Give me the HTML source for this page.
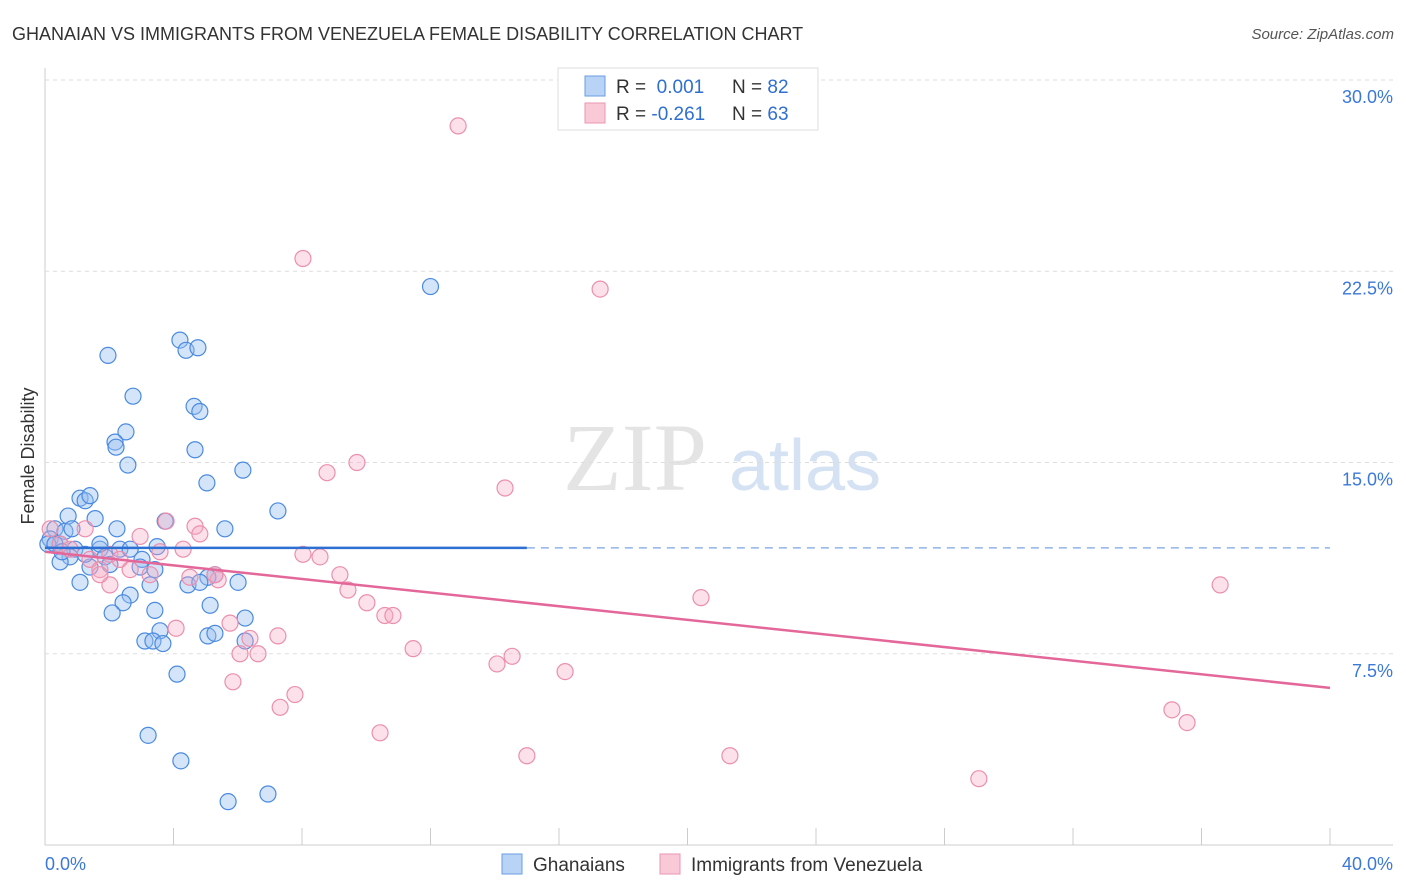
<!DOCTYPE html>
<html><head><meta charset="utf-8"><style>
body{margin:0;background:#fff;font-family:"Liberation Sans",sans-serif;}
svg{display:block}
</style></head><body>
<svg id="c" width="1406" height="892">
<text x="12" y="40" font-size="18" fill="#333">GHANAIAN VS IMMIGRANTS FROM VENEZUELA FEMALE DISABILITY CORRELATION CHART</text>
<text x="1394" y="39" font-size="15" fill="#555" text-anchor="end" font-style="italic">Source: ZipAtlas.com</text>
<text x="635" y="490" font-size="96" fill="#e4e4e4" font-family="Liberation Serif" text-anchor="middle">ZIP</text>
<text x="805" y="490" font-size="72" fill="#d4e2f4" text-anchor="middle">atlas</text>
<text transform="translate(34,456) rotate(-90)" font-size="18" fill="#333" text-anchor="middle">Female Disability</text>
<g id="grid"></g><g id="pts"></g><g id="lines"></g>
<g>
<rect x="558" y="68" width="260" height="62" fill="#fff" stroke="#ddd"/>
<rect x="585" y="76" width="20" height="20" fill="#b8d3f5" stroke="#6a9ee0"/>
<rect x="585" y="103" width="20" height="20" fill="#f9c9d7" stroke="#e996b0"/>
<text x="616" y="93" font-size="19" fill="#333">R = <tspan fill="#2f6fd0">&#160;0.001</tspan><tspan x="732">N = </tspan><tspan fill="#2f6fd0">82</tspan></text>
<text x="616" y="120" font-size="19" fill="#333">R = <tspan fill="#2f6fd0">-0.261</tspan><tspan x="732">N = </tspan><tspan fill="#2f6fd0">63</tspan></text>
</g>
<g>
<rect x="502" y="854" width="20" height="20" fill="#b8d3f5" stroke="#6a9ee0"/>
<text x="533" y="871" font-size="19" fill="#333">Ghanaians</text>
<rect x="660" y="854" width="20" height="20" fill="#f9c9d7" stroke="#e996b0"/>
<text x="691" y="871" font-size="19" fill="#333">Immigrants from Venezuela</text>
</g>
</svg>
<script>
const blueX=[12.0,4.2,4.39,4.76,1.96,2.74,4.64,4.82,2.52,2.18,2.21,4.67,2.58,6.16,5.04,1.09,1.25,1.40,7.25,1.56,0.72,3.74,5.6,2.24,0.31,0.62,0.16,0.47,0.93,1.71,2.33,2.65,3.02,3.49,0.78,1.87,2.02,1.40,0.47,2.96,3.42,5.29,5.07,1.09,3.27,4.45,4.82,6.01,2.65,2.43,3.42,5.14,2.09,6.23,3.58,3.11,3.36,3.67,5.07,5.29,6.23,4.11,3.21,4.23,5.70,6.94,1.71,1.25,0.84,0.09,0.31,0.53];
const blueY=[21.9,19.8,19.4,19.5,19.2,17.6,17.2,17.0,16.2,15.8,15.6,15.5,14.9,14.7,14.2,13.6,13.5,13.7,13.1,12.8,12.9,12.7,12.4,12.4,12.4,12.3,12.0,11.8,11.6,11.6,11.6,11.6,11.2,11.7,11.3,11.3,11.0,10.9,11.1,10.9,10.8,10.6,10.5,10.3,10.2,10.2,10.3,10.3,9.8,9.5,9.2,9.4,9.1,8.9,8.4,8.0,8.0,7.9,8.2,8.3,8.0,6.7,4.3,3.3,1.7,2.0,11.8,11.4,12.4,11.8,11.8,11.5];
const pinkX=[12.86,8.03,17.28,8.78,9.71,14.32,4.67,4.82,3.77,4.30,2.96,8.03,8.56,3.58,2.02,1.25,0.47,0.16,1.40,2.33,2.65,3.27,1.71,2.02,4.51,5.39,5.29,9.18,9.43,10.02,10.58,10.83,4.08,5.76,6.38,7.25,6.07,6.63,5.85,7.78,7.32,11.46,14.07,14.54,16.19,20.42,36.58,35.08,35.55,10.43,15.0,21.32,29.07,1.71,0.78];
const pinkY=[28.2,23.0,21.8,14.6,15.0,14.0,12.5,12.2,12.7,11.6,12.1,11.4,11.3,11.5,11.4,12.4,11.8,12.4,11.2,11.2,10.8,10.6,10.8,10.2,10.5,10.4,10.6,10.6,10.0,9.5,9.0,9.0,8.5,8.7,8.1,8.2,7.5,7.5,6.4,5.9,5.4,7.7,7.1,7.4,6.8,9.7,10.2,5.3,4.8,4.4,3.5,3.5,2.6,10.6,11.6];
const yTicks=[7.5,15.0,22.5,30.0];
const xTickVals=[0,4,8,12,16,20,24,28,32,36,40];
const blueFit=[11.65,11.65];
const pinkFit=[11.5,6.16];
const NS="http://www.w3.org/2000/svg";
const sx=v=>45+v*32.125, sy=v=>845-v*25.5;
function mk(t,a,p){const e=document.createElementNS(NS,t);for(const k in a)e.setAttribute(k,a[k]);p.appendChild(e);return e;}
const grid=document.getElementById('grid');
const ax=mk('line',{x1:45,y1:68,x2:45,y2:845,stroke:'#ccc'},grid);


const bx=mk('line',{x1:45,y1:845,x2:1393,y2:845,stroke:'#ccc'},grid);


yTicks.forEach(t=>{
 const g=mk('line',{x1:45,y1:sy(t),x2:1393,y2:sy(t),stroke:'#ddd','stroke-dasharray':'4,4'},grid);
 
 
 const l=mk('text',{x:1393,y:sy(t)+23,'font-size':18,fill:'#3b78d8','text-anchor':'end'},grid);
 l.textContent=t.toFixed(1)+'%';
 
 
});
xTickVals.forEach(t=>{
 const k=mk('line',{x1:sx(t),y1:828,x2:sx(t),y2:845,stroke:'#ccc'},grid);
 
 
});
const xl0=mk('text',{x:45,y:870,'font-size':18,fill:'#3b78d8'},grid);xl0.textContent='0.0%';


const xl1=mk('text',{x:1393,y:870,'font-size':18,fill:'#3b78d8','text-anchor':'end'},grid);xl1.textContent='40.0%';


const pts=document.getElementById('pts');
blueX.forEach((x,i)=>{const c=mk('circle',{cx:sx(x),cy:sy(blueY[i]),r:8,fill:'rgba(150,190,240,0.4)',stroke:'#4a8ae0','stroke-width':1.2},pts);
 
 });
pinkX.forEach((x,i)=>{const c=mk('circle',{cx:sx(x),cy:sy(pinkY[i]),r:8,fill:'rgba(245,170,195,0.35)',stroke:'#ec8fad','stroke-width':1.2},pts);
 
 });
const L=document.getElementById('lines');
const b1=mk('line',{x1:sx(0),y1:sy(blueFit[0]),x2:sx(15),y2:sy(blueFit[0]+(blueFit[1]-blueFit[0])*15/40),stroke:'#2d6fd2','stroke-width':2.5},L);


const b2=mk('line',{x1:sx(15),y1:sy(blueFit[0]+(blueFit[1]-blueFit[0])*15/40),x2:sx(40),y2:sy(blueFit[1]),stroke:'#8fb3e6','stroke-width':1.5,'stroke-dasharray':'8,6'},L);


const p1=mk('line',{x1:sx(0),y1:sy(pinkFit[0]),x2:sx(40),y2:sy(pinkFit[1]),stroke:'#e4679a','stroke-width':2.5},L);


</script>
</body></html>
